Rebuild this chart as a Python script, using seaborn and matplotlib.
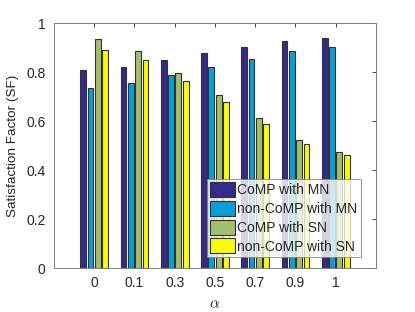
import matplotlib
matplotlib.use("Agg")
import matplotlib.pyplot as plt
import seaborn as sns
import pandas as pd

alphas = ["0", "0.1", "0.3", "0.5", "0.7", "0.9", "1"]
series = ["CoMP with MN", "non-CoMP with MN", "CoMP with SN", "non-CoMP with SN"]
comp_mn = [0.808, 0.822, 0.849, 0.876, 0.901, 0.928, 0.940]
noncomp_mn = [0.737, 0.754, 0.787, 0.819, 0.852, 0.884, 0.901]
comp_sn = [0.933, 0.888, 0.797, 0.705, 0.613, 0.521, 0.475]
noncomp_sn = [0.890, 0.848, 0.763, 0.676, 0.590, 0.506, 0.462]
colors = ["#352A87", "#0D9DD6", "#A5BE6B", "#F9FB0E"]

rows = []
for name, vals in zip(series, [comp_mn, noncomp_mn, comp_sn, noncomp_sn]):
    for a, v in zip(alphas, vals):
        rows.append({"alpha": a, "SF": v, "series": name})
df = pd.DataFrame(rows)

sns.set_style("white")
plt.rcParams['font.family'] = ['Liberation Sans', 'DejaVu Sans']
plt.rcParams['mathtext.fontset'] = 'cm'

fig = plt.figure(figsize=(4.15, 3.12), dpi=100)
ax = fig.add_axes([0.130, 0.141, 0.776, 0.785])

sns.barplot(data=df, x="alpha", y="SF", hue="series", order=alphas,
            hue_order=series, palette=colors, saturation=1, width=0.727, gap=0.2,
            edgecolor="#333333", linewidth=0.8, ax=ax, errorbar=None)

ax.set_xlim(-1, 7)
ax.set_ylim(0, 1)
ax.set_yticks([0, 0.2, 0.4, 0.6, 0.8, 1])
ax.set_yticklabels(["0", "0.2", "0.4", "0.6", "0.8", "1"])
ax.set_xlabel(r"$\alpha$", fontsize=11, color="#262626")
ax.set_ylabel("Satisfaction Factor (SF)", fontsize=9.7, color="#262626")
ax.yaxis.set_label_coords(-0.11, 0.5)
ax.xaxis.set_label_coords(0.5, -0.118)
ax.tick_params(direction="in", length=3, width=0.6, top=True, right=True,
               labelsize=10, colors="#262626", pad=6)
for s in ax.spines.values():
    s.set_visible(True)
    s.set_color("#808080")
    s.set_linewidth(0.7)

leg = ax.legend(loc="lower left", bbox_to_anchor=(0.475, 0.045), fontsize=10,
                frameon=True, fancybox=False, edgecolor="#808080",
                handlelength=1.75, handleheight=1.3, handletextpad=0.2,
                labelspacing=0.25, borderpad=0.25, borderaxespad=0)
leg.get_frame().set_linewidth(0.7)

fig.savefig("out.png", dpi=100)
